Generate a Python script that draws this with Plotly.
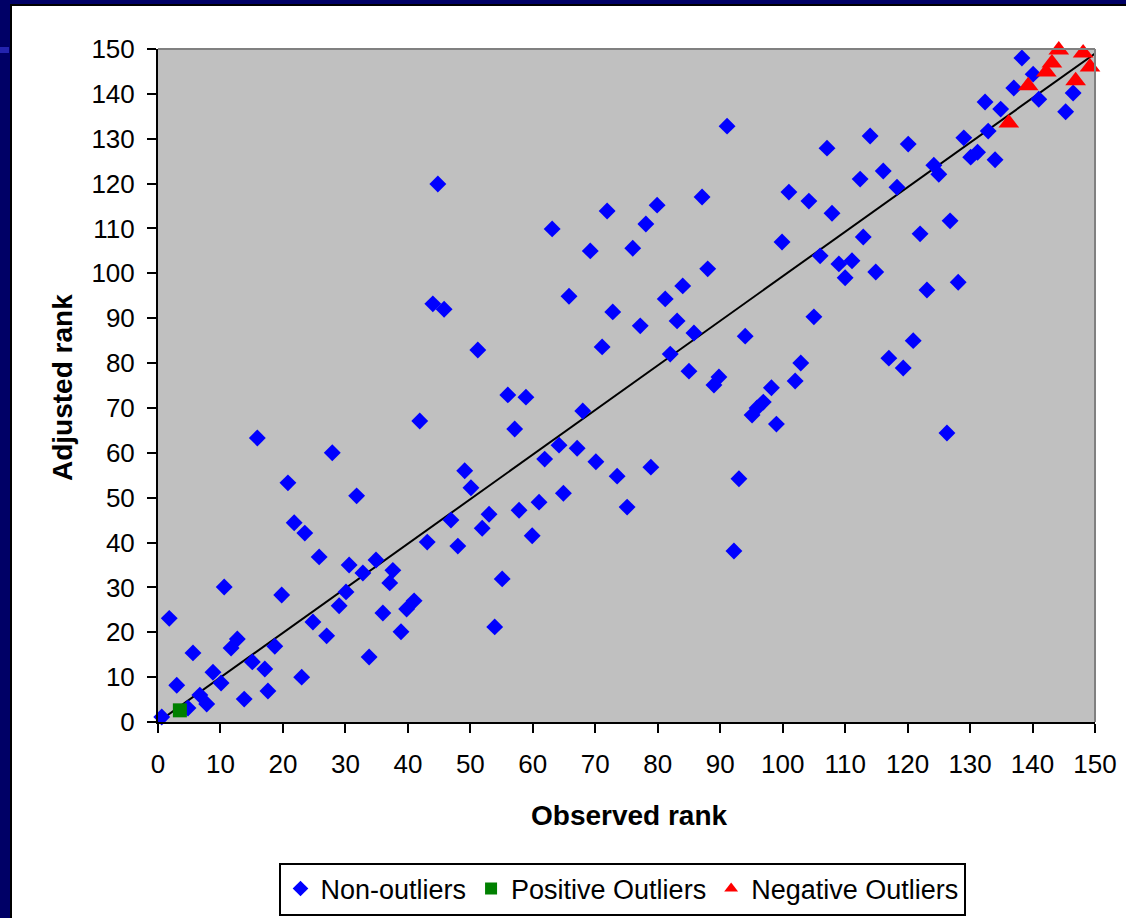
import plotly.graph_objects as go

# ---------------- data ----------------
non_x = [0.6, 1.8, 3.0, 4.8, 5.6, 6.7, 7.8, 8.8, 10.1, 10.6, 11.7, 12.7, 13.8, 15.1, 15.9,
         17.1, 17.6, 18.7, 19.8, 20.8, 21.8, 23.0, 23.5, 24.8, 25.8, 27.0, 27.9, 29.0, 30.1,
         30.6, 31.8, 32.8, 33.8, 34.9, 36.0, 37.1, 37.6, 38.9, 39.8, 41.0, 41.9, 43.1, 44.0,
         44.8, 45.8, 46.9, 48.0, 49.1, 50.1, 51.2, 51.9, 53.0, 53.9, 55.1, 56.0, 57.1, 57.8,
         58.9, 59.9, 61.0, 61.9, 63.1, 64.2, 64.9, 65.8, 67.1, 68.0, 69.2, 70.1, 71.1, 71.9,
         72.8, 73.5, 75.1, 76.0, 77.2, 78.1, 78.9, 79.9, 81.2, 82.0, 83.1, 84.0, 85.0, 85.8,
         87.1, 88.0, 89.0, 89.8, 91.1, 92.2, 93.0, 94.0, 95.1, 95.9, 96.9, 98.2, 99.0, 99.9,
         101.0, 102.0, 102.9, 104.2, 105.0, 106.0, 107.1, 107.9, 109.0, 110.0, 111.1, 112.4,
         112.9, 114.0, 114.9, 116.1, 117.0, 118.3, 119.3, 120.1, 120.9, 122.0, 123.1, 124.2,
         125.0, 126.3, 126.8, 128.1, 129.0, 130.1, 131.2, 132.4, 132.9, 134.0, 134.9, 137.0,
         138.3, 140.1, 141.0, 145.3, 146.5, 150.3]
non_y = [1.1, 23.1, 8.2, 3.1, 15.4, 6.0, 4.0, 11.1, 8.7, 30.1, 16.5, 18.5, 5.1, 13.4, 63.3,
         11.8, 6.9, 16.9, 28.3, 53.3, 44.4, 10.0, 42.1, 22.3, 36.8, 19.2, 60.0, 25.9, 29.0,
         35.0, 50.4, 33.2, 14.5, 36.1, 24.3, 31.0, 33.8, 20.1, 25.2, 27.0, 67.1, 40.1, 93.2,
         119.9, 92.0, 45.0, 39.2, 56.0, 52.2, 82.9, 43.2, 46.3, 21.2, 31.9, 72.9, 65.3, 47.2,
         72.4, 41.5, 49.0, 58.6, 109.9, 61.7, 51.0, 94.9, 61.0, 69.3, 105.0, 58.0, 83.6, 113.9,
         91.4, 54.8, 47.9, 105.6, 88.3, 111.0, 56.8, 115.2, 94.3, 82.0, 89.4, 97.2, 78.2, 86.7,
         117.0, 101.0, 75.1, 76.9, 132.8, 38.1, 54.2, 86.0, 68.4, 70.0, 71.3, 74.5, 66.4, 107.0,
         118.1, 76.0, 80.0, 116.1, 90.3, 103.9, 127.9, 113.4, 102.1, 99.0, 102.8, 121.0,
         108.1, 130.6, 100.3, 122.8, 81.1, 119.2, 78.9, 128.8, 85.0, 108.8, 96.3, 124.1,
         122.1, 64.4, 111.7, 98.0, 130.2, 125.9, 127.0, 138.2, 131.7, 125.3, 136.6, 141.3,
         148.0, 144.4, 138.8, 136.0, 140.2, 134.8]

pos_x = [3.5]
pos_y = [2.6]

neg_x = [136.2, 139.3, 142.2, 143.1, 144.2, 146.9, 148.1, 149.2]
neg_y = [133.5, 141.8, 144.9, 146.9, 149.8, 142.9, 149.1, 146.0]

fit_x = [0, 150]
fit_y = [0, 149]

x_ticks = list(range(0, 151, 10))
y_ticks = list(range(0, 151, 10))

# ---------------- figure ----------------
W, H = 1126, 918
L, R, T, B = 158, 31, 49, 196
PW, PH = W - L - R, H - T - B
FONT = "Liberation Sans, Arial, sans-serif"


def px_x(p):
    return (p - L) / PW


def px_y(p):
    return (H - B - p) / PH


fig = go.Figure()
fig.add_trace(go.Scatter(x=fit_x, y=fit_y, mode="lines", line=dict(color="black", width=2),
                         showlegend=False, hoverinfo="skip"))
fig.add_trace(go.Scatter(x=non_x, y=non_y, mode="markers", name="Non-outliers",
                         marker=dict(symbol="diamond", size=13, color="#0000FF"),
                         cliponaxis=False))
fig.add_trace(go.Scatter(x=pos_x, y=pos_y, mode="markers", name="Positive Outliers",
                         marker=dict(symbol="square", size=14, color="#008000"),
                         cliponaxis=False))
fig.add_trace(go.Scatter(x=neg_x, y=neg_y, mode="markers", name="Negative Outliers",
                         marker=dict(symbol="triangle-up", size=18, color="#FF0000"),
                         cliponaxis=False))

shapes = []
navy = "#000066"
# left navy strip
shapes.append(dict(type="rect", xref="paper", yref="paper", x0=px_x(-5), x1=px_x(10),
                   y0=px_y(H + 5), y1=px_y(-5), fillcolor=navy, line=dict(width=0)))
# top navy strip
shapes.append(dict(type="rect", xref="paper", yref="paper", x0=px_x(-5), x1=px_x(W + 5),
                   y0=px_y(4), y1=px_y(-5), fillcolor=navy, line=dict(width=0)))
# lighter stripe on left
shapes.append(dict(type="rect", xref="paper", yref="paper", x0=px_x(-5), x1=px_x(9),
                   y0=px_y(53), y1=px_y(47), fillcolor="#2424B0", line=dict(width=0)))
# black border of white panel
shapes.append(dict(type="line", xref="paper", yref="paper", x0=px_x(11), x1=px_x(11),
                   y0=px_y(H + 5), y1=px_y(4), line=dict(color="black", width=2)))
shapes.append(dict(type="line", xref="paper", yref="paper", x0=px_x(10), x1=px_x(W + 5),
                   y0=px_y(5), y1=px_y(5), line=dict(color="black", width=2)))
# gray top/right plot borders
shapes.append(dict(type="line", xref="paper", yref="paper", x0=0, x1=1, y0=1, y1=1,
                   line=dict(color="#808080", width=2)))
shapes.append(dict(type="line", xref="paper", yref="paper", x0=1, x1=1, y0=0, y1=1,
                   line=dict(color="#808080", width=2)))

fig.update_layout(
    width=W, height=H,
    margin=dict(l=L, r=R, t=T, b=B, pad=0, autoexpand=False),
    paper_bgcolor="white", plot_bgcolor="#C0C0C0",
    font=dict(family=FONT, color="black", size=26),
    shapes=shapes,
    showlegend=True,
    legend=dict(orientation="h", x=px_x(622), y=px_y(889), xanchor="center", yanchor="middle",
                bordercolor="black", borderwidth=2, bgcolor="white",
                font=dict(family=FONT, size=27, color="black"),
                itemsizing="constant", tracegroupgap=0),
    annotations=[
        dict(text="<b>Observed rank</b>", x=px_x(629), y=px_y(815), xref="paper", yref="paper",
             showarrow=False, xanchor="center", yanchor="middle",
             font=dict(family=FONT, size=28, color="black")),
        dict(text="<b>Adjusted rank</b>", x=px_x(62), y=px_y(388), xref="paper", yref="paper",
             showarrow=False, xanchor="center", yanchor="middle", textangle=-90,
             font=dict(family=FONT, size=28, color="black")),
    ],
)
fig.update_xaxes(range=[0, 150], tickvals=x_ticks, ticktext=[str(v) for v in x_ticks],
                 showgrid=False, zeroline=False, showline=True, linecolor="black", linewidth=2,
                 ticks="outside", ticklen=9, tickwidth=2, tickcolor="black",
                 ticklabelstandoff=9,
                 tickfont=dict(family=FONT, size=26, color="black"), automargin=False)
fig.update_yaxes(range=[0, 150], tickvals=y_ticks, ticktext=[str(v) for v in y_ticks],
                 showgrid=False, zeroline=False, showline=True, linecolor="black", linewidth=2,
                 ticks="outside", ticklen=9, tickwidth=2, tickcolor="black",
                 ticklabelstandoff=7,
                 tickfont=dict(family=FONT, size=26, color="black"), automargin=False)

fig.write_html("out.html", config={"displayModeBar": False},
               post_script="document.body.style.margin='0px';document.body.style.overflow='hidden';")
